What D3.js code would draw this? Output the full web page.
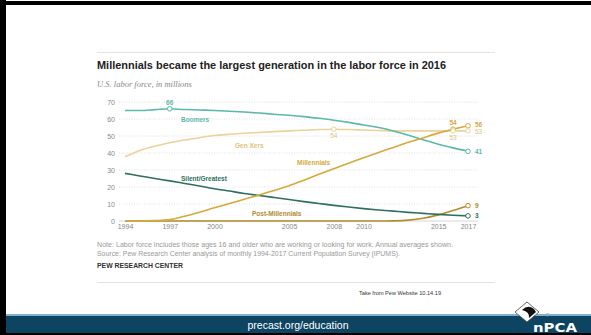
<!DOCTYPE html>
<html><head><meta charset="utf-8">
<script src="https://cdn.jsdelivr.net/npm/d3@7"></script>
<style>html,body{margin:0;padding:0;background:#fff;overflow:hidden}</style>
</head><body><svg id="c" width="591" height="335"></svg>
<script>
const years = [1994,1995,1996,1997,1998,1999,2000,2001,2002,2003,2004,2005,2006,2007,2008,2009,2010,2011,2012,2013,2014,2015,2016,2017];
const boomers = [65,65,65.5,66,65.6,65.3,65,64.6,64.1,63.5,62.8,62.2,61.4,60.4,59.3,58,56.5,55,53,50.5,47.8,45.2,43,41];
const genX = [37.8,41.5,44,46,47.6,49,50.3,51,51.6,52.1,52.6,53,53.4,53.8,54,53.8,53.5,53.2,53,53,53,53,53,53];
const millennials = [0,0,0.2,0.8,2.8,5.2,7.8,10.3,12.8,15.3,17.9,20.7,24,27.5,30.8,34,37.2,40.3,43.3,46.3,49,51.7,54,56];
const silent = [28,26.5,25,23.6,22.1,20.6,19,17.6,16.2,15,13.8,12.6,11.4,10.3,9.2,8.2,7.3,6.5,5.8,5.1,4.5,3.9,3.4,3];
const postMillennials = [0,0,0,0,0,0,0,0,0,0,0,0,0,0,0,0,0,0,0.1,0.5,1.6,3.6,6.2,9];
const xTicks = [1994,1997,2000,2005,2008,2010,2015,2017];
const yTicks = [0,10,20,30,40,50,60,70];

const svg = d3.select("#c");
const nf = "Liberation Sans, Arial, sans-serif";
// slide frame
svg.append("rect").attr("x",0).attr("y",1).attr("width",591).attr("height",4).attr("fill","#000");
svg.append("rect").attr("x",0).attr("y",0).attr("width",6).attr("height",335).attr("fill","#000");
svg.append("rect").attr("x",6).attr("y",314).attr("width",585).attr("height",2).attr("fill","#7fb0d0");
svg.append("rect").attr("x",6).attr("y",316).attr("width",585).attr("height",17).attr("fill","#0d4462");
svg.append("text").attr("x",298).attr("y",329).attr("text-anchor","middle").attr("fill","#fff")
  .attr("font-family",nf).attr("font-size",10.5).text("precast.org/education");
// logo
const lg = svg.append("g");
lg.append("path").attr("d","M515,312 L527,302 L539,312 L527,322 Z").attr("fill","#fff").attr("stroke","#444").attr("stroke-width",0.8);
lg.append("path").attr("d","M522,310 Q528,304 534,309 L536,312 L529,318 Q530,312 522,310 Z").attr("fill","#111");
lg.append("text").attr("x",546).attr("y",317).attr("fill","#9ab").attr("font-size",5).attr("font-family",nf).text("7");
lg.append("text").attr("x",533).attr("y",332).attr("fill","#fff").attr("font-size",11.5).attr("font-weight","900")
  .attr("font-family","DejaVu Sans, sans-serif").attr("textLength",44).attr("lengthAdjust","spacingAndGlyphs").text("nPCA");
svg.append("rect").attr("x",0).attr("y",333).attr("width",591).attr("height",2).attr("fill","#000");

// chart header
svg.append("line").attr("x1",97).attr("x2",495).attr("y1",52.5).attr("y2",52.5).attr("stroke","#e3e3e3").attr("stroke-width",1);
svg.append("text").attr("x",97).attr("y",69).attr("font-family",nf).attr("font-weight","bold")
  .attr("font-size",10.5).attr("fill","#222").attr("textLength",349).attr("lengthAdjust","spacingAndGlyphs")
  .text("Millennials became the largest generation in the labor force in 2016");
svg.append("text").attr("x",97).attr("y",87).attr("font-family","Liberation Serif, DejaVu Serif, serif").attr("font-style","italic")
  .attr("font-size",8.5).attr("fill","#888").text("U.S. labor force, in millions");

const x = d3.scaleLinear().domain([1994,2017]).range([125,468]);
const y = d3.scaleLinear().domain([0,70]).range([221,102]);

// grid
const g = svg.append("g");
yTicks.forEach(t=>{
  g.append("line").attr("x1",119).attr("x2",478).attr("y1",y(t)).attr("y2",y(t))
   .attr("stroke", t===0?"#ccc":"#d8d8d8").attr("stroke-width",0.8).attr("stroke-dasharray", t===0?null:"1,1.5");
});
const yAxis = d3.axisLeft(y).tickValues(yTicks).tickSize(0).tickPadding(0);
svg.append("g").attr("transform","translate(115,0)").call(yAxis)
  .call(s=>s.select(".domain").remove())
  .call(s=>s.selectAll("text").attr("fill","#888").attr("font-size",7).attr("font-family",nf));
const xAxis = d3.axisBottom(x).tickValues(xTicks).tickFormat(d3.format("d")).tickSize(0).tickPadding(0);
svg.append("g").attr("transform","translate(0,224)").call(xAxis)
  .call(s=>s.select(".domain").remove())
  .call(s=>s.selectAll("text").attr("fill","#888").attr("font-size",7).attr("font-family",nf));

const series = [
  {v:postMillennials, c:"#b08c2c"},
  {v:silent, c:"#2f6f60"},
  {v:genX, c:"#ebd29c"},
  {v:boomers, c:"#5cb8a9"},
  {v:millennials, c:"#d5a93c"}
];
const line = d3.line().x((d,i)=>x(years[i])).y(d=>y(d)).curve(d3.curveMonotoneX);
series.forEach(s=>{
  svg.append("path").attr("d",line(s.v)).attr("fill","none").attr("stroke",s.c).attr("stroke-width",1.6);
});
function marker(yr, arr, c){
  const i = years.indexOf(yr);
  svg.append("circle").attr("cx",x(yr)).attr("cy",y(arr[i])).attr("r",2.3).attr("fill","#fff").attr("stroke",c).attr("stroke-width",1);
}
marker(1997, boomers, "#5cb8a9");
marker(2008, genX, "#ebd29c");
marker(2016, millennials, "#d5a93c");
marker(2016, genX, "#ebd29c");
marker(2017, millennials, "#d5a93c");
marker(2017, genX, "#ebd29c");
marker(2017, boomers, "#5cb8a9");
marker(2017, postMillennials, "#b08c2c");
marker(2017, silent, "#2f6f60");

function lbl(tx, ty, t, c, opts={}){
  svg.append("text").attr("x",tx).attr("y",ty).attr("fill",c).attr("font-size",opts.fs||6.5)
   .attr("font-weight",opts.bold?"bold":"normal").attr("text-anchor",opts.anchor||"start")
   .attr("font-family",nf).text(t);
}
const i16 = years.length-2;
lbl(x(1997), y(66)-4, "66", "#5cb8a9", {anchor:"middle", bold:true});
lbl(x(2008), y(54)+9, "54", "#e0c27a", {anchor:"middle"});
lbl(x(2016), y(millennials[i16])-4, "54", "#d5a93c", {anchor:"middle", bold:true});
lbl(x(2016), y(genX[i16])+9, "53", "#e0c27a", {anchor:"middle"});
lbl(x(2017)+7, y(56)+1, "56", "#d5a93c", {bold:true});
lbl(x(2017)+7, y(53)+3.5, "53", "#e0c27a");
lbl(x(2017)+7, y(41)+2.5, "41", "#5cb8a9", {bold:true});
lbl(x(2017)+7, y(9)+2.5, "9", "#b08c2c", {bold:true});
lbl(x(2017)+7, y(3)+2.5, "3", "#2f6f60", {bold:true});
lbl(181, 122, "Boomers", "#5cb8a9", {bold:true});
lbl(235, 148, "Gen Xers", "#e0c27a", {bold:true});
lbl(181, 181, "Silent/Greatest", "#2f6f60", {bold:true});
lbl(297, 165, "Millennials", "#d5a93c", {bold:true});
lbl(252, 216, "Post-Millennials", "#b08c2c", {bold:true});

// notes
svg.append("text").attr("x",97).attr("y",247).attr("fill","#999").attr("font-size",6.3).attr("font-family",nf)
  .attr("textLength",356).attr("lengthAdjust","spacingAndGlyphs")
  .text("Note: Labor force includes those ages 16 and older who are working or looking for work. Annual averages shown.");
svg.append("text").attr("x",97).attr("y",256).attr("fill","#999").attr("font-size",6.3).attr("font-family",nf)
  .attr("textLength",303).attr("lengthAdjust","spacingAndGlyphs")
  .text("Source: Pew Research Center analysis of monthly 1994-2017 Current Population Survey (IPUMS).");
svg.append("text").attr("x",97).attr("y",268).attr("fill","#333").attr("font-size",6.6).attr("font-weight","bold").attr("font-family",nf)
  .attr("textLength",86).attr("lengthAdjust","spacingAndGlyphs").text("PEW RESEARCH CENTER");
svg.append("line").attr("x1",97).attr("x2",495).attr("y1",282.5).attr("y2",282.5).attr("stroke","#e3e3e3").attr("stroke-width",1);
svg.append("text").attr("x",359).attr("y",295).attr("fill","#333").attr("font-size",5.5).attr("font-family",nf)
  .attr("textLength",82).attr("lengthAdjust","spacingAndGlyphs").text("Take from Pew Website 10.14.19");
</script></body></html>
